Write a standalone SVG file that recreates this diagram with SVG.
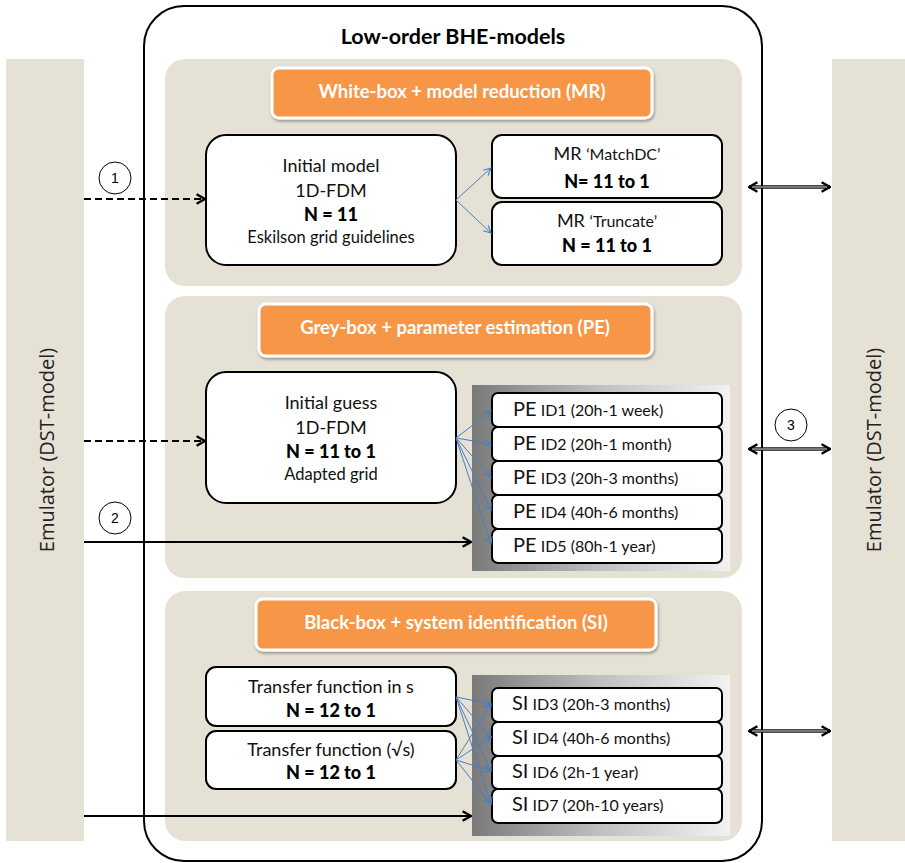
<svg xmlns="http://www.w3.org/2000/svg" width="905" height="863" viewBox="0 0 905 863">
  <style>
    .bar { fill: #e5e1d5; }
    .panel { fill: #e5e1d5; }
    .hdr { fill: #f79646; stroke: #ffffff; stroke-width: 3; filter: url(#shadow); }
    .hdrtxt { font-family: Lato, "Open Sans", sans-serif; font-weight: bold; font-size: 18.5px; fill: #ffffff; text-anchor: middle; }
    .node { fill: #ffffff; stroke: #000000; stroke-width: 2; }
    .t { font-family: Lato, "Liberation Sans", sans-serif; font-size: 18px; fill: #111; text-anchor: middle; }
    .ts { font-family: Lato, "Liberation Sans", sans-serif; font-size: 16.5px; fill: #111; text-anchor: middle; }
    .tb { font-family: Lato, "Liberation Sans", sans-serif; font-weight: 900; font-size: 18px; fill: #000; text-anchor: middle; }
    .id { font-family: Lato, "Liberation Sans", sans-serif; font-size: 16px; fill: #111; }
    .id .big { font-size: 20px; }
    .emu { font-family: "Open Sans", "Liberation Sans", sans-serif; font-size: 20px; fill: #222; text-anchor: middle; }
    .blue { stroke: #4a7ebf; stroke-width: 1; fill: none; marker-end: url(#blueHead); }
    .blk { stroke: #000; stroke-width: 2; fill: none; marker-end: url(#blackHead); }
    .dash { stroke-dasharray: 7 4; }
    .circ { fill: #ffffff; stroke: #000; stroke-width: 1; }
    .num { font-family: "Liberation Sans", sans-serif; font-size: 14px; fill: #000; text-anchor: middle; }
    .dbl { stroke: #111; stroke-width: 3.5; fill: none; }
    .dblin { stroke: #d8d8d8; stroke-width: 1.2; fill: none; }
  </style>
  <defs>
    <filter id="shadow" x="-10%" y="-20%" width="120%" height="150%">
      <feDropShadow dx="1" dy="2" stdDeviation="1.5" flood-color="#000" flood-opacity="0.35"/>
    </filter>
    <linearGradient id="grad" x1="0" y1="0" x2="1" y2="0">
      <stop offset="0" stop-color="#7a7a7a"/>
      <stop offset="0.5" stop-color="#c0c0c0"/>
      <stop offset="1" stop-color="#f2f2f2"/>
    </linearGradient>
    <marker id="blueHead" viewBox="0 0 10 10" refX="9" refY="5" markerWidth="9" markerHeight="9" markerUnits="userSpaceOnUse" orient="auto">
      <path d="M1,1 L9,5 L1,9" fill="none" stroke="#4a7ebf" stroke-width="1.2"/>
    </marker>
    <marker id="blackHead" viewBox="0 0 10 10" refX="9" refY="5" markerWidth="12" markerHeight="12" markerUnits="userSpaceOnUse" orient="auto">
      <path d="M2,1 L9,5 L2,9" fill="none" stroke="#000" stroke-width="2"/>
    </marker>
    <marker id="dblHead" viewBox="0 0 10 10" refX="9" refY="5" markerWidth="12" markerHeight="12" markerUnits="userSpaceOnUse" orient="auto-start-reverse">
      <path d="M2,1 L9,5 L2,9" fill="none" stroke="#000" stroke-width="2"/>
    </marker>
  </defs>

  <!-- emulator bars -->
  <g id="emulator-left">
    <rect class="bar" x="6" y="59" width="78" height="782"/>
    <text class="emu" transform="translate(54,450) rotate(-90)">Emulator (DST-model)</text>
  </g>
  <g id="emulator-right">
    <rect class="bar" x="832" y="59" width="73" height="782"/>
    <text class="emu" transform="translate(881,450) rotate(-90)">Emulator (DST-model)</text>
  </g>

  <!-- outer container -->
  <g id="low-order-models">
    <rect x="144" y="6" width="618" height="855" rx="40" ry="40" fill="#ffffff" stroke="#000" stroke-width="2"/>
    <text x="453" y="44" font-family="Lato, 'Open Sans', sans-serif" font-weight="bold" font-size="21.5" text-anchor="middle" fill="#000">Low-order BHE-models</text>
  </g>

  <!-- panels -->
  <g id="panel-mr">
    <rect class="panel" x="165" y="59" width="577" height="227" rx="20"/>
    <rect class="hdr" x="272" y="68" width="380" height="50" rx="7"/>
    <text class="hdrtxt" x="462" y="98">White-box + model reduction (MR)</text>
  </g>
  <g id="panel-pe">
    <rect class="panel" x="165" y="296" width="577" height="282" rx="20"/>
    <rect class="hdr" x="259" y="304" width="393" height="52" rx="7"/>
    <text class="hdrtxt" x="455" y="334">Grey-box + parameter estimation (PE)</text>
    <rect x="472" y="385" width="258" height="186" fill="url(#grad)"/>
  </g>
  <g id="panel-si">
    <rect class="panel" x="165" y="591" width="577" height="250" rx="20"/>
    <rect class="hdr" x="256" y="599" width="400" height="51" rx="7"/>
    <text class="hdrtxt" x="456" y="629">Black-box + system identification  (SI)</text>
    <rect x="472" y="675" width="258" height="161" fill="url(#grad)"/>
  </g>

  <!-- white-box nodes -->
  <g id="initial-model">
    <rect class="node" x="206" y="135" width="250" height="130" rx="20"/>
    <text class="t" x="331" y="172">Initial model</text>
    <text class="t" x="331" y="197">1D-FDM</text>
    <text class="tb" x="331" y="221">N = 11</text>
    <text class="ts" x="331" y="243">Eskilson grid guidelines</text>
  </g>
  <g id="mr-matchdc">
    <rect class="node" x="492" y="135" width="230" height="63" rx="10"/>
    <text class="t" x="607" y="160">MR <tspan font-size="16">‘MatchDC’</tspan></text>
    <text class="tb" x="607" y="188">N= 11 to 1</text>
  </g>
  <g id="mr-truncate">
    <rect class="node" x="492" y="202" width="230" height="63" rx="10"/>
    <text class="t" x="607" y="227">MR  <tspan font-size="16">‘Truncate’</tspan></text>
    <text class="tb" x="607" y="252">N = 11 to 1</text>
  </g>

  <!-- grey-box nodes -->
  <g id="initial-guess">
    <rect class="node" x="206" y="372" width="250" height="131" rx="20"/>
    <text class="t" x="331" y="409">Initial guess</text>
    <text class="t" x="331" y="434">1D-FDM</text>
    <text class="tb" x="331" y="458">N = 11 to 1</text>
    <text class="ts" x="331" y="480">Adapted grid</text>
  </g>
  <g id="pe-id1">
    <rect class="node" x="492" y="393" width="230" height="34" rx="6"/>
    <text class="id" x="513" y="416"><tspan class="big">PE</tspan> ID1 (20h-1 week)</text>
  </g>
  <g id="pe-id2">
    <rect class="node" x="492" y="427" width="230" height="34" rx="6"/>
    <text class="id" x="513" y="450"><tspan class="big">PE</tspan> ID2 (20h-1 month)</text>
  </g>
  <g id="pe-id3">
    <rect class="node" x="492" y="461" width="230" height="34" rx="6"/>
    <text class="id" x="513" y="484"><tspan class="big">PE</tspan> ID3 (20h-3 months)</text>
  </g>
  <g id="pe-id4">
    <rect class="node" x="492" y="495" width="230" height="34" rx="6"/>
    <text class="id" x="513" y="518"><tspan class="big">PE</tspan> ID4 (40h-6 months)</text>
  </g>
  <g id="pe-id5">
    <rect class="node" x="492" y="529" width="230" height="34" rx="6"/>
    <text class="id" x="513" y="552"><tspan class="big">PE</tspan> ID5 (80h-1 year)</text>
  </g>

  <!-- black-box nodes -->
  <g id="tf-s">
    <rect class="node" x="206" y="667" width="250" height="59" rx="10"/>
    <text class="t" x="331" y="693">Transfer function in s</text>
    <text class="tb" x="331" y="717">N = 12 to 1</text>
  </g>
  <g id="tf-sqrt-s">
    <rect class="node" x="206" y="731" width="250" height="58" rx="10"/>
    <text class="t" x="331" y="756">Transfer function (√s)</text>
    <text class="tb" x="331" y="779">N = 12 to 1</text>
  </g>
  <g id="si-id3">
    <rect class="node" x="492" y="688" width="230" height="34" rx="6"/>
    <text class="id" x="512" y="710"><tspan class="big">SI</tspan> ID3 (20h-3 months)</text>
  </g>
  <g id="si-id4">
    <rect class="node" x="492" y="722" width="230" height="34" rx="6"/>
    <text class="id" x="512" y="744"><tspan class="big">SI</tspan> ID4 (40h-6 months)</text>
  </g>
  <g id="si-id6">
    <rect class="node" x="492" y="756" width="230" height="33" rx="6"/>
    <text class="id" x="512" y="778"><tspan class="big">SI</tspan> ID6 (2h-1 year)</text>
  </g>
  <g id="si-id7">
    <rect class="node" x="492" y="789" width="230" height="34" rx="6"/>
    <text class="id" x="512" y="811"><tspan class="big">SI</tspan> ID7 (20h-10 years)</text>
  </g>

  <!-- connectors -->
  <g id="connectors">
    <!-- model reduction -->
    <line class="blue" x1="456" y1="200" x2="491" y2="168"/>
    <line class="blue" x1="456" y1="200" x2="491" y2="233"/>
    <!-- parameter estimation -->
    <line class="blue" x1="456" y1="438" x2="491" y2="411"/>
    <line class="blue" x1="456" y1="438" x2="491" y2="444"/>
    <line class="blue" x1="456" y1="438" x2="491" y2="477"/>
    <line class="blue" x1="456" y1="438" x2="491" y2="510"/>
    <line class="blue" x1="456" y1="438" x2="491" y2="544"/>
    <!-- system identification -->
    <line class="blue" x1="456" y1="697" x2="491" y2="704"/>
    <line class="blue" x1="456" y1="697" x2="491" y2="737"/>
    <line class="blue" x1="456" y1="697" x2="491" y2="771"/>
    <line class="blue" x1="456" y1="697" x2="491" y2="804"/>
    <line class="blue" x1="456" y1="760" x2="491" y2="704"/>
    <line class="blue" x1="456" y1="760" x2="491" y2="737"/>
    <line class="blue" x1="456" y1="760" x2="491" y2="771"/>
    <line class="blue" x1="456" y1="760" x2="491" y2="804"/>

    <!-- emulator inputs -->
    <line class="blk dash" x1="84" y1="199" x2="205" y2="199"/>
    <line class="blk dash" x1="84" y1="441" x2="205" y2="441"/>
    <line class="blk" x1="84" y1="542" x2="471" y2="542"/>
    <line class="blk" x1="84" y1="816" x2="471" y2="816"/>

    <!-- two-way exchange with the emulator -->
    <line class="dbl" x1="749" y1="187" x2="830" y2="187" marker-start="url(#dblHead)" marker-end="url(#dblHead)"/>
    <line class="dblin" x1="752" y1="187" x2="827" y2="187"/>
    <line class="dbl" x1="749" y1="449" x2="830" y2="449" marker-start="url(#dblHead)" marker-end="url(#dblHead)"/>
    <line class="dblin" x1="752" y1="449" x2="827" y2="449"/>
    <line class="dbl" x1="749" y1="731" x2="830" y2="731" marker-start="url(#dblHead)" marker-end="url(#dblHead)"/>
    <line class="dblin" x1="752" y1="731" x2="827" y2="731"/>

    <!-- step numbers -->
    <circle class="circ" cx="115" cy="178" r="16"/>
    <text class="num" x="115" y="183">1</text>
    <circle class="circ" cx="115" cy="518" r="16"/>
    <text class="num" x="115" y="523">2</text>
    <circle class="circ" cx="791" cy="425" r="16"/>
    <text class="num" x="791" y="430">3</text>
  </g>
</svg>
